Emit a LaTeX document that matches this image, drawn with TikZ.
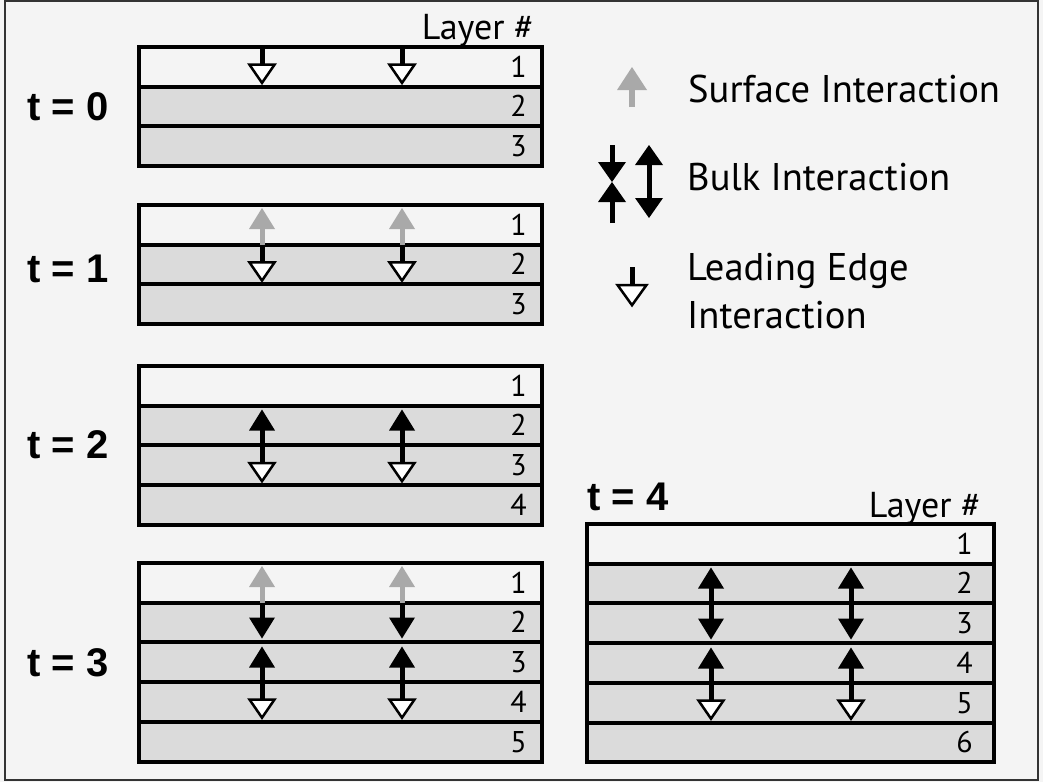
\documentclass[tikz,border=0pt]{standalone}
\usepackage{fontspec}
\newfontfamily\labfont{PT Sans}
\newfontfamily\tfont{Liberation Sans}
\definecolor{bg}{HTML}{F4F4F4}
\definecolor{lay}{HTML}{DBDBDB}
\definecolor{sgray}{HTML}{A9A9A9}
\definecolor{framec}{HTML}{333333}
\def\hh{39.7}
\def\hw{13}
\def\hl{21}
\def\sw{5}
\tikzset{
  sep/.style={line width=4pt, draw=black},
  num/.style={font=\labfont\fontsize{30}{30}\selectfont, inner sep=0pt, anchor=base east},
  laynum/.style={font=\labfont\fontsize{36}{36}\selectfont, inner sep=0pt, anchor=base east},
  leg/.style={font=\labfont\fontsize{38.6}{38.6}\selectfont, inner sep=0pt, anchor=base west},
  tlab/.style={font=\tfont\bfseries\fontsize{40}{40}\selectfont, inner sep=0pt, anchor=base west},
}
% stack: #1 left, #2 right, #3 top, #4 layers, #5 digit right edge
\newcommand\drawstack[5]{%
  \pgfmathsetmacro\sbot{#3+#4*\hh}
  \fill[bg] (#1,#3) rectangle (#2,#3+\hh);
  \fill[lay] (#1,#3+\hh) rectangle (#2,\sbot);
  \foreach \k in {2,...,#4} {\draw[sep] (#1,#3+\k*\hh-\hh) -- (#2,#3+\k*\hh-\hh);}
  \draw[sep] (#1,#3) rectangle (#2,\sbot);
  \foreach \k in {1,...,#4} {\node[num] at (#5,#3+\k*\hh-9.5) {\k};}
}
\newcommand\arrup[4]{%
  \draw[line width=\sw pt,#4] (#1,#2) -- (#1,#3+\hl-1);
  \fill[#4] (#1,#3) -- (#1-\hw,#3+\hl) -- (#1+\hw,#3+\hl) -- cycle;}
\newcommand\arrdn[4]{%
  \draw[line width=\sw pt,#4] (#1,#2) -- (#1,#3-\hl+1);
  \fill[#4] (#1,#3) -- (#1-\hw,#3-\hl) -- (#1+\hw,#3-\hl) -- cycle;}
\newcommand\arrle[3]{%
  \draw[line width=\sw pt,black] (#1,#2) -- (#1,#3-\hl+1);
  \filldraw[fill=white,draw=black,line width=2.5pt,line join=miter]
    (#1,#3-1.8) -- (#1-\hw+0.5,#3-\hl+1) -- (#1+\hw-0.5,#3-\hl+1) -- cycle;}
\begin{document}
\begin{tikzpicture}[x=1pt,y=-1pt]
\useasboundingbox (0,0) rectangle (1043,782);
\fill[bg] (0,0) rectangle (1043,782);
\draw[framec, line width=2pt] (5,1) rectangle (1038,780);

% stacks
\drawstack{139}{542}{47}{3}{527}
\drawstack{139}{542}{205}{3}{527}
\drawstack{139}{542}{366}{4}{527}
\drawstack{139}{542}{563}{5}{527}
\drawstack{587}{994}{524}{6}{973}

% t = 0
\foreach \x in {262,402} {\arrle{\x}{47}{84.7}}
% t = 1
\foreach \x in {262,402} {\arrup{\x}{244.7}{208}{sgray}\arrle{\x}{244.7}{282.4}}
% t = 2
\foreach \x in {262,402} {\arrup{\x}{445.4}{409.5}{black}\arrle{\x}{445.4}{483}}
% t = 3
\foreach \x in {262,402} {\arrup{\x}{602.7}{566}{sgray}\arrdn{\x}{602.7}{638.5}{black}
  \arrup{\x}{682.1}{646.5}{black}\arrle{\x}{682.1}{719.5}}
% t = 4
\foreach \x in {711,851} {\arrup{\x}{603.4}{567.5}{black}\arrdn{\x}{603.4}{639.5}{black}
  \arrup{\x}{682.8}{647.5}{black}\arrle{\x}{682.8}{720.5}}

% labels
\node[tlab] (t0) at (27,120) {t = 0};
\node[tlab] (t1) at (27,282) {t = 1};
\node[tlab] (t2) at (27,458.5) {t = 2};
\node[tlab] (t3) at (27,676) {t = 3};
\node[tlab] (t4) at (587,510) {t = 4};
\node[laynum] (lay0) at (534,39) {Layer \#};
\node[laynum] (lay4) at (981,517) {Layer \#};

% legend
\begin{scope}
\def\hw{15}\def\hl{23}\def\sw{6}
\arrup{632}{107}{67}{sgray}
\def\sw{5}
\arrle{632}{267}{307}
\def\hw{14}\def\hl{20}
\arrdn{612}{145}{182}{black}
\arrup{612}{223}{182}{black}
\arrup{649}{181}{145}{black}
\arrdn{649}{181}{218}{black}
\end{scope}
\node[leg] (lsurf) at (688,102) {Surface Interaction};
\node[leg] (lbulk) at (687,190) {Bulk Interaction};
\node[leg] (llead) at (687,280) {Leading Edge};
\node[leg] (llead2) at (687,328) {Interaction};
\end{tikzpicture}
\end{document}
